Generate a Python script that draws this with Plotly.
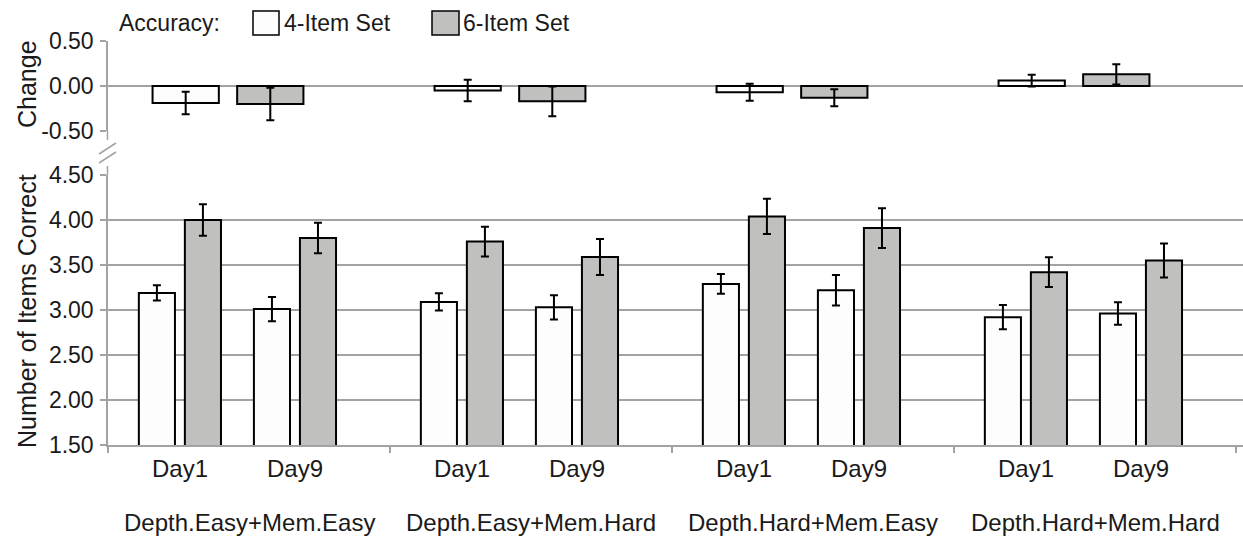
import plotly.graph_objects as go

W, H = 1243, 542

# ---- data -------------------------------------------------------------
conditions = ["Depth.Easy+Mem.Easy", "Depth.Easy+Mem.Hard",
              "Depth.Hard+Mem.Easy", "Depth.Hard+Mem.Hard"]
days = ["Day1", "Day9"]
set_names = ["4-Item Set", "6-Item Set"]

# mean number of items correct per condition
four_day1 = [3.19, 3.09, 3.29, 2.92]
four_day9 = [3.01, 3.03, 3.22, 2.96]
six_day1 = [4.00, 3.76, 4.04, 3.42]
six_day9 = [3.80, 3.59, 3.91, 3.55]
four_day1_err = [0.085, 0.095, 0.11, 0.135]
four_day9_err = [0.135, 0.135, 0.17, 0.125]
six_day1_err = [0.175, 0.165, 0.195, 0.165]
six_day9_err = [0.17, 0.20, 0.22, 0.19]

# change in accuracy (Day9 - Day1)
change_four = [-0.19, -0.05, -0.07, 0.06]
change_six = [-0.20, -0.17, -0.13, 0.13]
change_four_err = [0.125, 0.12, 0.095, 0.065]
change_six_err = [0.18, 0.165, 0.095, 0.113]

change_ticks = [-0.5, 0.0, 0.5]
change_ticklabels = ["-0.50", "0.00", "0.50"]
count_ticks = [1.5, 2.0, 2.5, 3.0, 3.5, 4.0, 4.5]
count_ticklabels = ["1.50", "2.00", "2.50", "3.00", "3.50", "4.00", "4.50"]

# ---- layout helpers ---------------------------------------------------
L_MARGIN = 108
PLOT_W = W - L_MARGIN
GROUP_PX = 282                       # width of one condition slot
X_MAX = PLOT_W / GROUP_PX            # axis range in condition units

DAY_POS = [0.255, 0.663]             # day centres inside a slot
PAIR_OFF = 0.0816                    # half distance between paired bars
BAR_W = 0.128
TOP_POS = 0.4255                     # change-bar pair centre in a slot
TOP_OFF = 0.15
TOP_W = 0.235

FONT = "Liberation Sans"
TXT = "#1a1a1a"
GRID = "#a3a3a3"
WHITE = "#fdfdfd"
GREY = "#c0c0be"


def px_x(p):
    return (p - L_MARGIN) / PLOT_W


def px_y(p):
    return 1 - p / H


fig = go.Figure()

# ---- bottom panel: items correct --------------------------------------
def day_positions(shift):
    xs = []
    for i in range(len(conditions)):
        for d in DAY_POS:
            xs.append(i + d + shift)
    return xs


def interleave(a, b):
    out = []
    for u, v in zip(a, b):
        out += [u, v]
    return out


for name, col, shift, d1, d9, e1, e9 in [
    (set_names[0], WHITE, -PAIR_OFF, four_day1, four_day9, four_day1_err, four_day9_err),
    (set_names[1], GREY, PAIR_OFF, six_day1, six_day9, six_day1_err, six_day9_err),
]:
    fig.add_trace(go.Bar(
        x=day_positions(shift), y=interleave(d1, d9), width=BAR_W,
        marker=dict(color=col, line=dict(color="black", width=2)),
        error_y=dict(type="data", array=interleave(e1, e9),
                     color="black", thickness=2, width=4),
        base=0, name=name, showlegend=False, xaxis="x", yaxis="y",
    ))

# ---- top panel: change -------------------------------------------------
for name, col, shift, vals, errs in [
    (set_names[0], WHITE, -TOP_OFF, change_four, change_four_err),
    (set_names[1], GREY, TOP_OFF, change_six, change_six_err),
]:
    fig.add_trace(go.Bar(
        x=[i + TOP_POS + shift for i in range(len(conditions))], y=vals,
        width=TOP_W,
        marker=dict(color=col, line=dict(color="black", width=2)),
        error_y=dict(type="data", array=errs, color="black",
                     thickness=2, width=4),
        name=name, showlegend=False, xaxis="x2", yaxis="y2",
    ))

bottom_dom = [px_y(445), px_y(175)]
top_dom = [px_y(131), px_y(41)]

axis_font = dict(family=FONT, size=23, color=TXT)

fig.update_layout(
    width=W, height=H,
    margin=dict(l=L_MARGIN, r=0, t=0, b=0, autoexpand=False),
    paper_bgcolor="white", plot_bgcolor="white",
    barmode="overlay",
    font=dict(family=FONT, color=TXT),
    xaxis=dict(domain=[0, 1], range=[0, X_MAX], anchor="y", automargin=False,
               tickvals=list(range(len(conditions) + 1)),
               ticktext=[""] * (len(conditions) + 1),
               ticks="outside", ticklen=6, tickcolor=GRID, tickwidth=1.5,
               showline=True, linecolor=GRID, linewidth=1.5,
               showgrid=False, zeroline=False),
    yaxis=dict(domain=bottom_dom, range=[1.5, 4.5], anchor="x", automargin=False,
               tickvals=count_ticks, ticktext=count_ticklabels,
               ticks="outside", ticklen=6, tickcolor=GRID, tickwidth=1.5,
               ticklabelstandoff=2,
               showline=True, linecolor=GRID, linewidth=1.5,
               showgrid=True, gridcolor=GRID, gridwidth=1.5,
               zeroline=False, tickfont=axis_font),
    xaxis2=dict(domain=[0, 1], range=[0, X_MAX], anchor="y2", automargin=False,
                showticklabels=False, ticks="", showline=False,
                showgrid=False, zeroline=False),
    yaxis2=dict(domain=top_dom, range=[-0.5, 0.5], anchor="x2", automargin=False,
                tickvals=change_ticks, ticktext=change_ticklabels,
                ticks="outside", ticklen=6, tickcolor=GRID, tickwidth=1.5,
                ticklabelstandoff=2,
                showline=True, linecolor=GRID, linewidth=1.5,
                showgrid=True, gridcolor=GRID, gridwidth=1.5,
                zeroline=False, tickfont=axis_font),
)

annotations = []
shapes = []
label_font = dict(family=FONT, size=24, color=TXT)
legend_font = dict(family=FONT, size=23, color=TXT)

# day labels and condition labels under the bottom panel
for i, cond in enumerate(conditions):
    for d, lbl in zip(DAY_POS, days):
        annotations.append(dict(x=i + d, y=px_y(468), xref="x", yref="paper",
                                text=lbl, showarrow=False, font=label_font,
                                xanchor="center", yanchor="middle"))
    annotations.append(dict(x=i + 0.5, y=px_y(522), xref="x", yref="paper",
                            text=cond, showarrow=False, font=label_font,
                            xanchor="center", yanchor="middle"))

# axis titles
title_font = dict(family=FONT, size=25, color=TXT)
annotations.append(dict(x=px_x(27), y=px_y(84), xref="paper", yref="paper",
                        text="Change", textangle=-90, showarrow=False,
                        font=title_font, xanchor="center", yanchor="middle"))
annotations.append(dict(x=px_x(27), y=px_y(311), xref="paper", yref="paper",
                        text="Number of Items Correct", textangle=-90,
                        showarrow=False, font=title_font,
                        xanchor="center", yanchor="middle"))

# legend
annotations.append(dict(x=px_x(117), y=px_y(23), xref="paper", yref="paper",
                        text="Accuracy:", showarrow=False, font=legend_font,
                        xanchor="left", yanchor="middle"))
for (bx0, bx1, tx), col, name in zip([(253, 279, 282), (432, 459, 461)],
                                     [WHITE, GREY], set_names):
    shapes.append(dict(type="rect", xref="paper", yref="paper",
                       x0=px_x(bx0), x1=px_x(bx1), y0=px_y(35), y1=px_y(11),
                       fillcolor=col, line=dict(color="black", width=1.5)))
    annotations.append(dict(x=px_x(tx), y=px_y(23), xref="paper", yref="paper",
                            text=name, showarrow=False, font=legend_font,
                            xanchor="left", yanchor="middle"))

# axis break marks between the panels
for (x0, y0, x1, y1) in [(99, 154, 116, 143), (99, 163, 116, 152)]:
    shapes.append(dict(type="line", xref="paper", yref="paper",
                       x0=px_x(x0), y0=px_y(y0), x1=px_x(x1), y1=px_y(y1),
                       line=dict(color=GRID, width=1.5)))
for (ya, yb) in [(131, 140), (166, 175)]:
    shapes.append(dict(type="line", xref="paper", yref="paper",
                       x0=px_x(107.5), x1=px_x(107.5), y0=px_y(ya), y1=px_y(yb),
                       line=dict(color=GRID, width=1.5)))

fig.update_layout(annotations=annotations, shapes=shapes)

fig.write_html("out.html")
